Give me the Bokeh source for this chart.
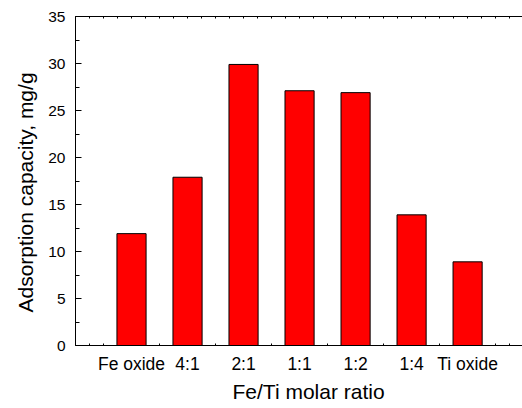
import numpy as np
from bokeh.plotting import figure
from bokeh.models import ColumnDataSource, FixedTicker, LinearAxis, Range1d, Title
from bokeh.embed import file_html
from bokeh.resources import INLINE

# Adsorption capacity of Fe/Ti mixed oxides
categories = ["Fe oxide", "4:1", "2:1", "1:1", "1:2", "1:4", "Ti oxide"]
capacity = [11.9, 17.9, 29.9, 27.1, 26.9, 13.9, 8.9]
y_ticks = [0, 5, 10, 15, 20, 25, 30, 35]

FONT = "Liberation Sans"
BAR_W = 0.52

xpos = list(range(1, len(categories) + 1))
src = ColumnDataSource(dict(x=xpos, top=capacity, name=categories))

p = figure(width=522, height=408, output_backend="svg", toolbar_location=None,
           x_range=Range1d(0, 7.98), y_range=Range1d(0, 35),
           min_border_left=75, min_border_right=0, min_border_top=16,
           min_border_bottom=63, x_axis_location=None, y_axis_location=None)
p.outline_line_color = None
p.xgrid.visible = False
p.ygrid.visible = False
p.background_fill_color = "white"
p.border_fill_color = "white"

p.vbar(x="x", top="top", width=BAR_W, bottom=0, source=src,
       fill_color="#ff0000", line_color="black", line_width=1)

# small ticks every quarter unit, left out where a bar covers them
quarter = np.arange(0, 8.0, 0.25)
gap_ticks = [float(t) for t in quarter
             if all(abs(t - c) > BAR_W / 2 + 0.005 for c in xpos)]

bottom = LinearAxis(
    ticker=FixedTicker(ticks=xpos, minor_ticks=gap_ticks),
    major_label_overrides={i + 1: c for i, c in enumerate(categories)})
top = LinearAxis(ticker=FixedTicker(ticks=[], minor_ticks=[float(t) for t in quarter]))
left = LinearAxis(ticker=FixedTicker(ticks=y_ticks,
                                     minor_ticks=list(np.arange(0, 35.1, 2.5))))

for ax in (bottom, top, left):
    ax.axis_line_color = "black"
    ax.axis_line_width = 1
    ax.major_tick_line_color = "black"
    ax.minor_tick_line_color = "black"
    ax.major_label_text_font = FONT
    ax.major_label_text_color = "black"
    ax.major_tick_out = 0
    ax.minor_tick_out = 0

bottom.major_label_text_font_size = "17.5px"
bottom.major_tick_in = 0
bottom.minor_tick_in = 2
bottom.major_label_standoff = 8

top.major_tick_in = 0
top.minor_tick_in = 2
top.major_label_text_font_size = "0px"
top.major_label_standoff = 0

left.major_label_text_font_size = "15.5px"
left.major_tick_in = 6
left.minor_tick_in = 4
left.major_label_standoff = 10

p.add_layout(bottom, "below")
p.add_layout(top, "above")
p.add_layout(left, "left")

# axis titles
x_title = Title(text="Fe/Ti molar ratio", align="left", offset=157,
                text_font=FONT, text_font_size="21px", text_font_style="normal",
                text_color="black", standoff=3)
y_title = Title(text="Adsorption capacity, mg/g", align="left", offset=33,
                text_font=FONT, text_font_size="21px", text_font_style="normal",
                text_color="black", standoff=18)
p.add_layout(x_title, "below")
p.add_layout(y_title, "left")

open("out.html", "w").write(file_html(p, INLINE))
